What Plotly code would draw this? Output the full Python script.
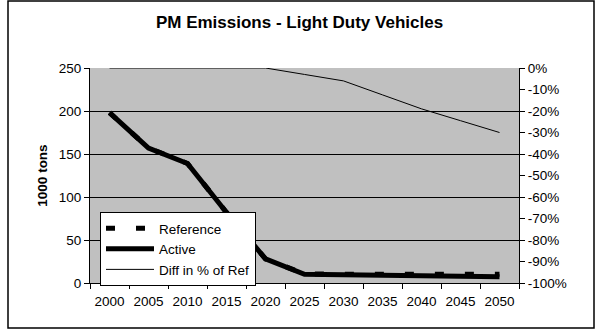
import plotly.graph_objects as go

years = ["2000", "2005", "2010", "2015", "2020", "2025", "2030", "2035", "2040", "2045", "2050"]
reference = [198, 157, 139, 82, 28, 10.5, 10.3, 10.1, 10.0, 10.0, 10.2]
active = [198, 157, 139, 82, 28, 10.2, 9.6, 8.9, 8.1, 7.6, 7.2]
diff_pct = [0, 0, 0, 0, 0, -0.03, -0.06, -0.125, -0.19, -0.245, -0.30]
pct_ticks = [0, -0.1, -0.2, -0.3, -0.4, -0.5, -0.6, -0.7, -0.8, -0.9, -1.0]
pct_labels = ["0%", "-10%", "-20%", "-30%", "-40%", "-50%", "-60%", "-70%", "-80%", "-90%", "-100%"]

FONT = "Arial, Liberation Sans, sans-serif"
W, H = 599, 331
L, R, T, B = 90, 80, 68, 48
pw, ph = W - L - R, H - T - B

fig = go.Figure()
fig.add_trace(go.Scatter(x=years, y=reference, name="Reference", mode="lines",
                         line=dict(color="black", width=5, dash="9px,21px")))
fig.add_trace(go.Scatter(x=years, y=active, name="Active", mode="lines",
                         line=dict(color="black", width=5)))
fig.add_trace(go.Scatter(x=years, y=diff_pct, name="Diff in % of Ref", mode="lines",
                         line=dict(color="black", width=1), yaxis="y2"))

def px_x(x):
    return (x - L) / pw

def px_y(y):
    return (H - B - y) / ph

fig.update_layout(
    width=W, height=H,
    margin=dict(l=L, r=R, t=T, b=B, autoexpand=False),
    paper_bgcolor="white",
    plot_bgcolor="#C0C0C0",
    font=dict(family=FONT, size=13.5, color="black"),
    title=dict(text="<b>PM Emissions - Light Duty Vehicles</b>", x=0.5, xanchor="center",
               y=1 - 22 / H, yanchor="middle", font=dict(size=17, family=FONT)),
    showlegend=True,
    legend=dict(x=px_x(100), y=px_y(212), xanchor="left", yanchor="top",
                bgcolor="white", bordercolor="black", borderwidth=1,
                font=dict(size=13.5, family=FONT), tracegroupgap=0,
                itemwidth=48),
    xaxis=dict(type="category", range=[-0.5, 10.5], showgrid=False, ticks="outside",
               tickson="boundaries", ticklen=5, tickcolor="black", showline=True,
               linecolor="black", linewidth=1, tickfont=dict(size=13.5), zeroline=False,
               tickangle=0, ticklabelstandoff=6, automargin=False),
    yaxis=dict(range=[0, 250], dtick=50, showgrid=True, gridcolor="black", gridwidth=1,
               ticks="outside", ticklen=5, tickcolor="black", showline=True, linecolor="black",
               title=dict(text="<b>1000 tons</b>", font=dict(size=13.5), standoff=8),
               zeroline=False, tickfont=dict(size=13.5), automargin=False),
    yaxis2=dict(range=[-1, 0], tickvals=pct_ticks, ticktext=pct_labels, overlaying="y",
                side="right", showgrid=False, ticks="outside", ticklen=5, tickcolor="black",
                showline=True, linecolor="black", zeroline=False, tickfont=dict(size=13.5),
                automargin=False),
    shapes=[dict(type="rect", xref="paper", yref="paper",
                 x0=px_x(8), x1=px_x(594), y0=px_y(328), y1=px_y(1),
                 line=dict(color="black", width=1.5), fillcolor="rgba(0,0,0,0)", layer="below")],
)

fig.write_html("out.html")
